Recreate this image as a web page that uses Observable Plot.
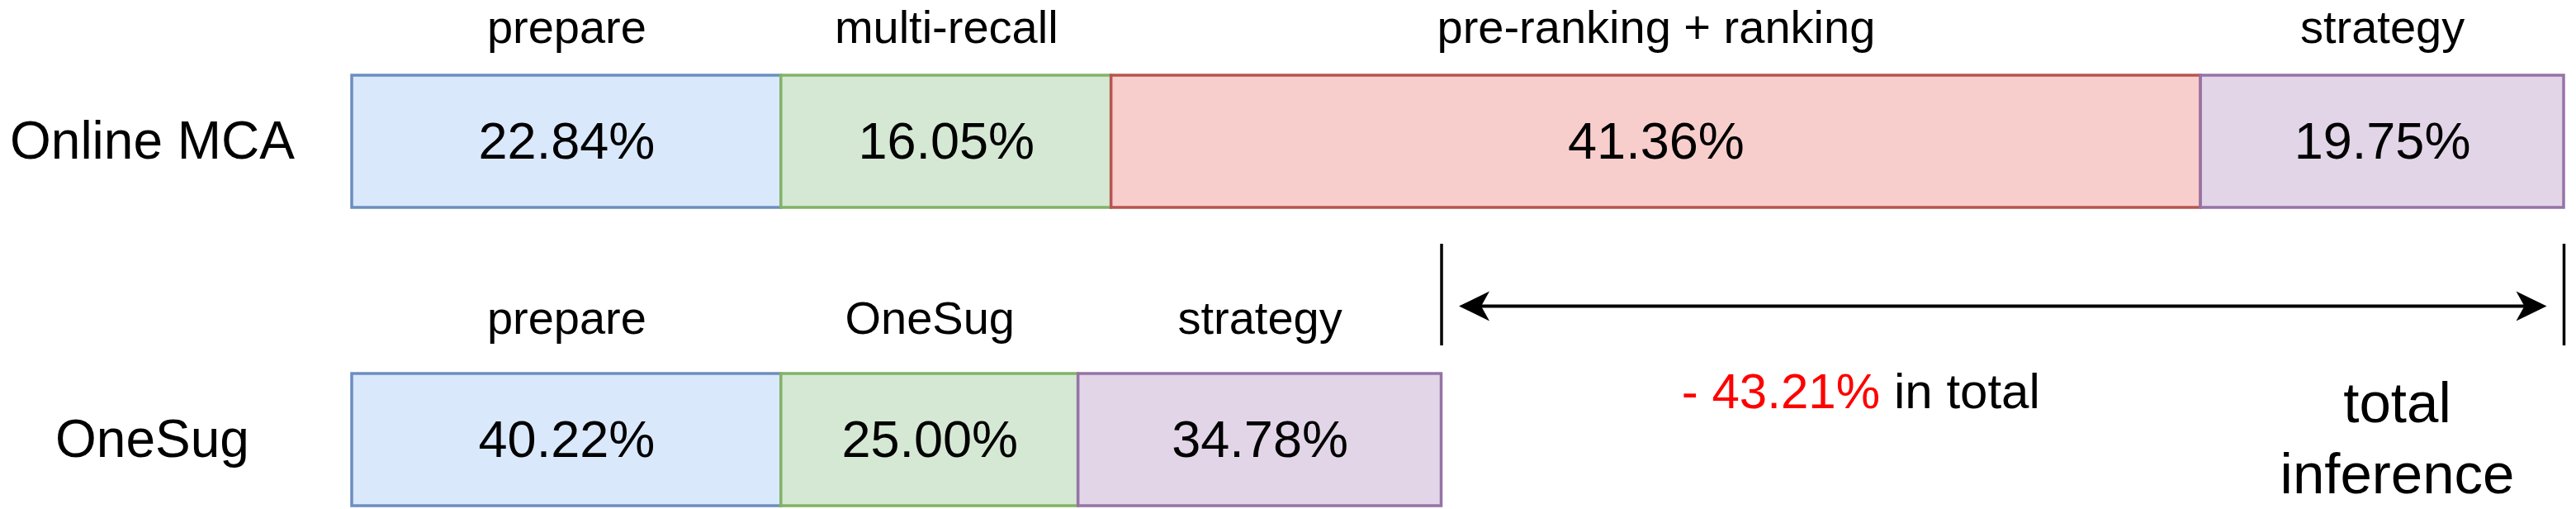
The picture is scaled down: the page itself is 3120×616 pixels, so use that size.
<!DOCTYPE html>
<html>
<head>
<meta charset="utf-8">
<script src="https://cdn.jsdelivr.net/npm/d3@7"></script>
<script src="https://cdn.jsdelivr.net/npm/@observablehq/plot@0.6"></script>
<style>
  html, body { margin: 0; padding: 0; background: #ffffff; }
  #chart svg { display: block; }
</style>
</head>
<body>
<div id="chart"></div>
<script>
// ---- data ----
const rows = ["Online MCA", "OneSug"];

const onlineStages = ["prepare", "multi-recall", "pre-ranking + ranking", "strategy"];
const onlineShares = [22.84, 16.05, 41.36, 19.75];
const onlineSpans  = [130, 100, 330, 110];   // box lengths, diagram units

const oneSugStages = ["prepare", "OneSug", "strategy"];
const oneSugShares = [40.22, 25.00, 34.78];
const oneSugSpans  = [130, 90, 110];         // box lengths, diagram units

const reductionText = "- 43.21%";
const reductionSuffix = "in total";
const totalLabel = "total\ninference";

// ---- styles ----
const fills = {
  "prepare": "#dae8fc",
  "multi-recall": "#d5e8d4",
  "OneSug": "#d5e8d4",
  "pre-ranking + ranking": "#f8cecc",
  "strategy": "#e1d5e7"
};
const strokes = {
  "prepare": "#6c8ebf",
  "multi-recall": "#82b366",
  "OneSug": "#82b366",
  "pre-ranking + ranking": "#b85450",
  "strategy": "#9673a6"
};

// ---- table built from the arrays ----
function segments(row, stages, shares, spans) {
  const ends = d3.cumsum(spans);
  return stages.map((stage, i) => ({
    row, stage, share: shares[i], x1: ends[i] - spans[i], x2: ends[i]
  }));
}
const data = [
  ...segments(rows[0], onlineStages, onlineShares, onlineSpans),
  ...segments(rows[1], oneSugStages, oneSugShares, oneSugSpans)
];
const onlineTotal = d3.sum(onlineSpans);
const oneSugTotal = d3.sum(oneSugSpans);
const mid = d => (d.x1 + d.x2) / 2;

// draw.io "classic" arrow head, tip offset from the origin
const arrowHead = {
  draw(context) {
    context.moveTo(-21, 0);
    context.lineTo(-58, -18);
    context.lineTo(-48, 0);
    context.lineTo(-58, 18);
    context.closePath();
  }
};

const font = '"Liberation Sans", Arial, Helvetica, sans-serif';

const chart = Plot.plot({
  width: 3120,
  height: 616,
  marginTop: 0,
  marginBottom: 0,
  marginLeft: 426,
  marginRight: 15,
  style: { fontFamily: font, background: "#ffffff", color: "#000000" },
  x: { domain: [0, Math.max(onlineTotal, oneSugTotal)], axis: null },
  y: { domain: rows, range: [91, 612], paddingInner: 0.557, paddingOuter: 0, align: 0 },
  marks: [
    Plot.barX(data, {
      x1: "x1", x2: "x2", y: "row",
      fill: d => fills[d.stage],
      stroke: d => strokes[d.stage],
      strokeWidth: 3.5
    }),
    // stage names above the boxes
    Plot.text(data.filter(d => d.row === rows[0]), {
      x: mid, y: "row", text: "stage",
      fontSize: 56, lineAnchor: "middle", dy: -137, fill: "#000"
    }),
    Plot.text(data.filter(d => d.row === rows[1]), {
      x: mid, y: "row", text: "stage",
      fontSize: 56, lineAnchor: "middle", dy: -146, fill: "#000"
    }),
    // shares inside the boxes
    Plot.text(data, {
      x: mid, y: "row", text: d => d.share.toFixed(2) + "%",
      fontSize: 63, lineAnchor: "middle", fill: "#000"
    }),
    Plot.axisY({
      anchor: "left", tickSize: 0, tickPadding: 0, textAnchor: "middle",
      dx: -242, fontSize: 64, label: null, fill: "#000"
    }),
    // brackets at the end of each bar
    Plot.ruleX([oneSugTotal, onlineTotal], {
      x: d => d, insetTop: 295, insetBottom: 198, stroke: "#000", strokeWidth: 3.5
    }),
    // double arrow between the two bar ends
    Plot.ruleY([{ row: rows[1], x1: oneSugTotal, x2: onlineTotal }], {
      y: "row", x1: "x1", x2: "x2", dy: -162,
      insetLeft: 30, insetRight: 30, stroke: "#000", strokeWidth: 4
    }),
    Plot.dot([
      { row: rows[1], x: oneSugTotal, rot: 180 },
      { row: rows[1], x: onlineTotal, rot: 0 }
    ], {
      x: "x", y: "row", rotate: "rot", dy: -162,
      symbol: arrowHead, r: 5, fill: "#000", stroke: "none"
    }),
    Plot.text([{ row: rows[1], x: oneSugTotal }], {
      x: "x", y: "row", text: () => reductionText,
      textAnchor: "end", dx: 531, dy: -58, fontSize: 60, fill: "#ff0000", lineAnchor: "middle"
    }),
    Plot.text([{ row: rows[1], x: oneSugTotal }], {
      x: "x", y: "row", text: () => reductionSuffix,
      textAnchor: "start", dx: 548, dy: -58, fontSize: 60, fill: "#000", lineAnchor: "middle"
    }),
    Plot.text([{ row: rows[1], x: onlineTotal }], {
      x: "x", y: "row", text: () => totalLabel,
      dx: -202, dy: -6, fontSize: 69, lineHeight: 1.24, fill: "#000", lineAnchor: "middle"
    })
  ]
});

document.getElementById("chart").appendChild(chart);
</script>
</body>
</html>
